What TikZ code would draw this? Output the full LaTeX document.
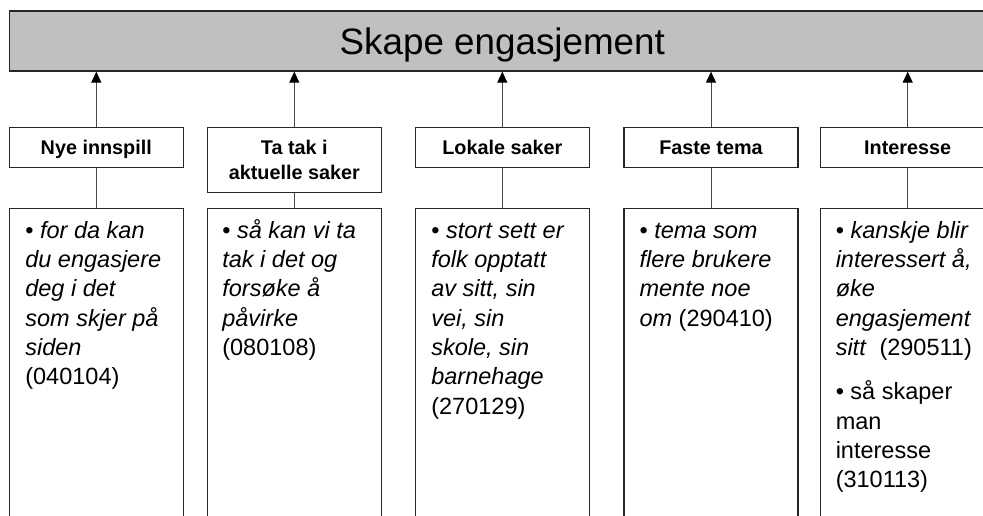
\documentclass[tikz,border=0pt]{standalone}
\usepackage{fontspec}
\setmainfont{Liberation Sans}
\usetikzlibrary{arrows.meta,calc}
\definecolor{barfill}{HTML}{C0C0C0}
\definecolor{edge}{HTML}{262626}
\definecolor{wire}{HTML}{4A4A4A}
\begin{document}
\begin{tikzpicture}[x=1pt,y=-1pt,
  frame/.style={draw=edge, line width=1.3pt, fill=white, inner sep=0pt},
  titlebar/.style={frame, fill=barfill, minimum width=986pt, minimum height=60pt,
    font=\fontsize{36.8}{40}\selectfont, text height=26.4pt, text depth=0pt},
  headbox/.style={frame, minimum width=174pt, minimum height=40.4pt,
    font=\bfseries\fontsize{19.8}{25}\selectfont, align=center},
  headone/.style={headbox, text height=14.2pt, text depth=0pt},
  bodybox/.style={frame, minimum width=174pt, minimum height=340pt, anchor=north},
  % the base anchor of a multi-line node sits on its last line
  bodytext/.style={anchor=base west, align=left, inner sep=0pt,
    font=\itshape\fontsize{23.5}{29.3}\selectfont},
  rise/.style={draw=wire, line width=1pt,
    -{Triangle[length=11pt,width=10pt,color=black]}},
  drop/.style={draw=wire, line width=1pt}
]
\clip (0,0) rectangle (983,516);
\fill[white] (0,0) rectangle (983,516);

% title bar
\node[titlebar] (top) at (502.3,41) {Skape engasjement};

% category headers
\node[headone] (h1) at (96.3,147.5) {Nye innspill};
\node[headbox, minimum height=65pt] (h2) at (294.3,159.8) {Ta tak i\\aktuelle saker};
\node[headone] (h3) at (502.3,147.5) {Lokale saker};
\node[headone] (h4) at (711,147.5) {Faste tema};
\node[headone] (h5) at (907.7,147.5) {Interesse};

% quote columns
\node[bodybox] (b1) at (96.3,207.5) {};
\node[bodybox] (b2) at (294.3,207.5) {};
\node[bodybox] (b3) at (502.3,207.5) {};
\node[bodybox] (b4) at (711,207.5) {};
\node[bodybox] (b5) at (907.7,207.5) {};

% arrows up to the title bar, plain links down to the quotes
\foreach \i in {1,...,5}{
  \draw[rise] (h\i.north) -- (h\i.north |- top.south);
  \draw[drop] (h\i.south) -- (h\i.south |- b\i.north);
}

% quotes (offsets put the first baseline 30.8pt below the column top)
\node[bodytext] (t1) at ($(b1.north west)+(16.5,177.3)$)
  {\textup{•} for da kan\\du engasjere\\deg i det\\som skjer på\\siden\\\textup{(040104)}};
\node[bodytext] (t2) at ($(b2.north west)+(15.5,148)$)
  {\textup{•} så kan vi ta\\tak i det og\\forsøke å\\påvirke\\\textup{(080108)}};
\node[bodytext] (t3) at ($(b3.north west)+(16.5,206.6)$)
  {\textup{•} stort sett er\\folk opptatt\\av sitt, sin\\vei, sin\\skole, sin\\barnehage\\\textup{(270129)}};
\node[bodytext] (t4) at ($(b4.north west)+(16,118.7)$)
  {\textup{•} tema som\\flere brukere\\mente noe\\om \textup{(290410)}};
\node[bodytext] (t5) at ($(b5.north west)+(15.5,280.2)$)
  {\textup{•} kanskje blir\\interessert å,\\øke\\engasjement\\sitt\hspace{0.55em}\textup{(290511)}\\[15pt]
   \textup{• så skaper}\\\textup{man}\\\textup{interesse}\\\textup{(310113)}};
\end{tikzpicture}
\end{document}
